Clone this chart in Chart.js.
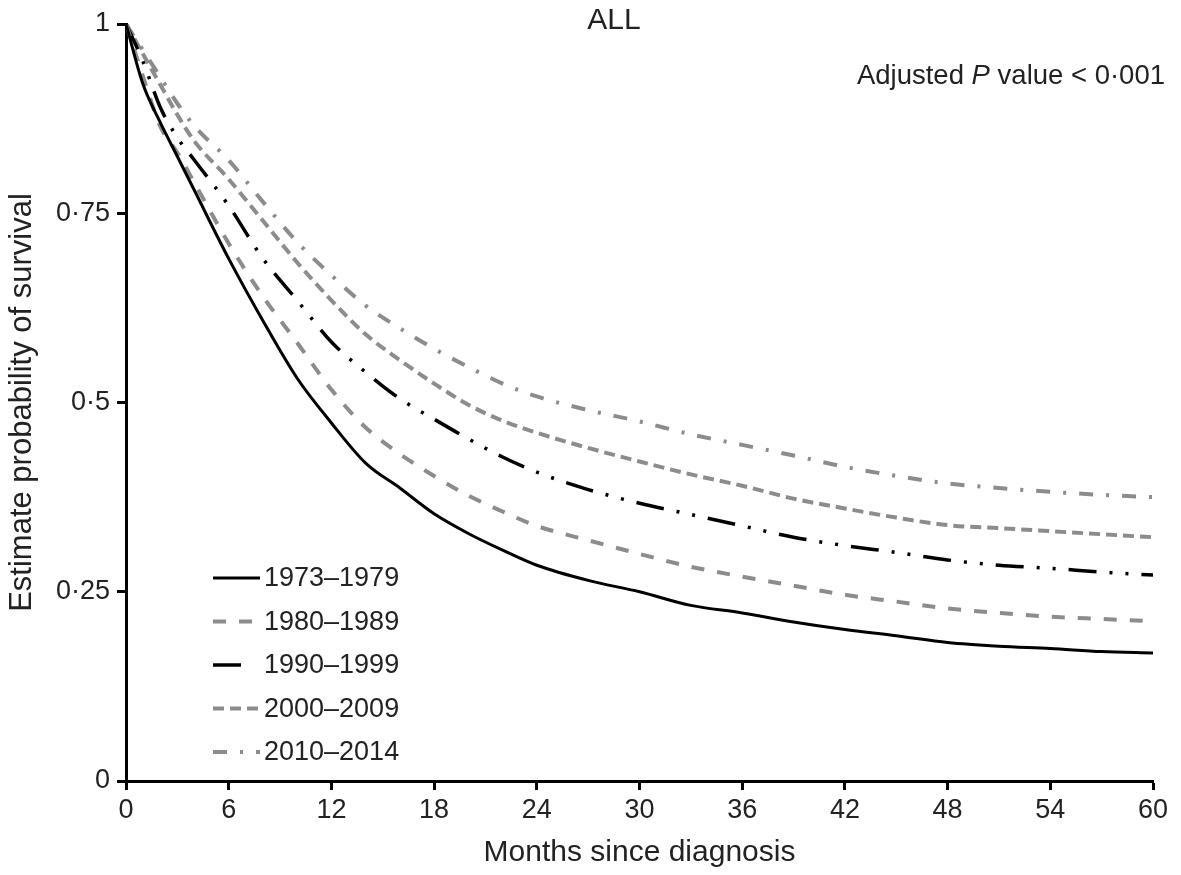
<!DOCTYPE html>
<html>
<head>
<meta charset="utf-8">
<script src="https://cdn.jsdelivr.net/npm/chart.js@4.4.1/dist/chart.umd.min.js"></script>
<style>
  html, body { margin: 0; padding: 0; background: #fff; }
  #wrap { width: 1181px; height: 875px; }
</style>
</head>
<body>
<div id="wrap"><canvas id="survChart" width="1181" height="875"></canvas></div>
<script>
const months = [0, 1, 2, 3, 4, 6, 8, 10, 12, 14, 16, 18, 20, 22, 24, 27, 30, 33, 36, 39, 42, 45, 48, 51, 54, 57, 60];

const s1973 = [1, 0.92, 0.87, 0.825, 0.78, 0.69, 0.608, 0.532, 0.473, 0.42, 0.387, 0.353, 0.327, 0.305, 0.285, 0.265, 0.250, 0.232, 0.222, 0.210, 0.200, 0.192, 0.183, 0.178, 0.175, 0.171, 0.169];
const s1980 = [1, 0.93, 0.865, 0.83, 0.79, 0.71, 0.64, 0.579, 0.517, 0.467, 0.432, 0.403, 0.377, 0.356, 0.337, 0.318, 0.300, 0.283, 0.270, 0.258, 0.246, 0.237, 0.228, 0.222, 0.217, 0.214, 0.211];
const s1990 = [1, 0.95, 0.89, 0.85, 0.82, 0.76, 0.69, 0.635, 0.58, 0.54, 0.505, 0.478, 0.452, 0.428, 0.408, 0.385, 0.367, 0.352, 0.337, 0.322, 0.311, 0.302, 0.292, 0.285, 0.281, 0.276, 0.272];
const s2000 = [1, 0.96, 0.92, 0.88, 0.845, 0.795, 0.74, 0.685, 0.635, 0.59, 0.556, 0.525, 0.497, 0.476, 0.460, 0.44, 0.422, 0.405, 0.39, 0.373, 0.360, 0.348, 0.338, 0.334, 0.330, 0.326, 0.322];
const s2010 = [1, 0.965, 0.93, 0.895, 0.865, 0.82, 0.765, 0.712, 0.668, 0.628, 0.598, 0.571, 0.547, 0.525, 0.508, 0.49, 0.475, 0.458, 0.444, 0.43, 0.415, 0.403, 0.393, 0.387, 0.382, 0.378, 0.375];

const periods = ['1973–1979', '1980–1989', '1990–1999', '2000–2009', '2010–2014'];
const yTicks = [0, 0.25, 0.5, 0.75, 1];

const GRAY = '#8c8c8c';
const FONT = "'Liberation Sans', Arial, sans-serif";
const styles = [
  { color: '#000', width: 3, dash: [] },
  { color: GRAY, width: 4, dash: [13, 13] },
  { color: '#000', width: 3.5, dash: [28, 13, 3, 13, 3, 13] },
  { color: GRAY, width: 4, dash: [11, 6] },
  { color: GRAY, width: 4, dash: [14, 13, 3, 13] }
];

function pts(vals) {
  return vals.map((v, i) => ({ x: months[i], y: v }));
}

const seriesList = [s1973, s1980, s1990, s2000, s2010];
const datasets = seriesList.map((vals, i) => ({
  label: periods[i],
  data: pts(vals),
  borderColor: styles[i].color,
  borderWidth: styles[i].width,
  borderDash: styles[i].dash,
  pointRadius: 0,
  fill: false,
  cubicInterpolationMode: 'monotone'
}));

function fmt(v) {
  return String(v).replace('.', '·');
}

// draws the annotation texts and the legend inside the plot
const extras = {
  id: 'extras',
  afterDraw(chart) {
    const ctx = chart.ctx;
    const a = chart.chartArea;
    ctx.save();
    ctx.fillStyle = '#222';
    ctx.textBaseline = 'middle';

    ctx.font = '30px ' + FONT;
    ctx.textAlign = 'center';
    ctx.fillText('ALL', a.left + 488, a.top - 3);

    // "Adjusted P value < 0·001" with italic P
    const parts = [['Adjusted ', 'normal'], ['P', 'italic'], [' value < 0·001', 'normal']];
    let total = 0;
    parts.forEach(p => { ctx.font = p[1] + ' 27.5px ' + FONT; total += ctx.measureText(p[0]).width; });
    let x = a.right + 12 - total;
    ctx.textAlign = 'left';
    parts.forEach(p => {
      ctx.font = p[1] + ' 27.5px ' + FONT;
      ctx.fillText(p[0], x, a.top + 52);
      x += ctx.measureText(p[0]).width;
    });

    // legend
    ctx.font = '27px ' + FONT;
    periods.forEach((name, i) => {
      const y = a.top + 554 + i * 43.5;
      const st = styles[i];
      ctx.beginPath();
      ctx.strokeStyle = st.color;
      ctx.lineWidth = st.width;
      ctx.setLineDash(st.dash);
      const len = i === 2 ? 32 : 47;
      ctx.moveTo(a.left + 87, y);
      ctx.lineTo(a.left + 87 + len, y);
      ctx.stroke();
      ctx.setLineDash([]);
      ctx.fillText(name, a.left + 138, y + 1);
    });
    ctx.restore();
  }
};

new Chart(document.getElementById('survChart'), {
  type: 'line',
  data: { datasets: datasets },
  plugins: [extras],
  options: {
    responsive: false,
    animation: false,
    layout: { padding: { top: 24, right: 28, left: 0, bottom: 0 } },
    plugins: { legend: { display: false }, tooltip: { enabled: false } },
    scales: {
      x: {
        type: 'linear',
        min: 0,
        max: 60,
        ticks: { stepSize: 6, color: '#222', font: { family: FONT, size: 27 }, padding: 4, maxRotation: 0 },
        grid: { drawOnChartArea: false, drawTicks: true, tickLength: 9, tickWidth: 3, color: '#000' },
        border: { display: true, width: 3, color: '#000' },
        title: { display: true, text: 'Months since diagnosis', color: '#222', font: { family: FONT, size: 30 }, padding: { top: 0 } },
        afterFit(s) { s.height = 94; }
      },
      y: {
        type: 'linear',
        min: 0,
        max: 1,
        afterBuildTicks(s) { s.ticks = yTicks.map(v => ({ value: v })); },
        ticks: { color: '#222', font: { family: FONT, size: 27 }, padding: 7, callback: v => fmt(v) },
        grid: { drawOnChartArea: false, drawTicks: true, tickLength: 9, tickWidth: 3, color: '#000' },
        border: { display: true, width: 3, color: '#000' },
        title: { display: true, text: 'Estimate probability of survival', color: '#222', font: { family: FONT, size: 31 }, padding: { bottom: 4 } },
        afterFit(s) { s.width = 126; }
      }
    }
  }
});
</script>
</body>
</html>
